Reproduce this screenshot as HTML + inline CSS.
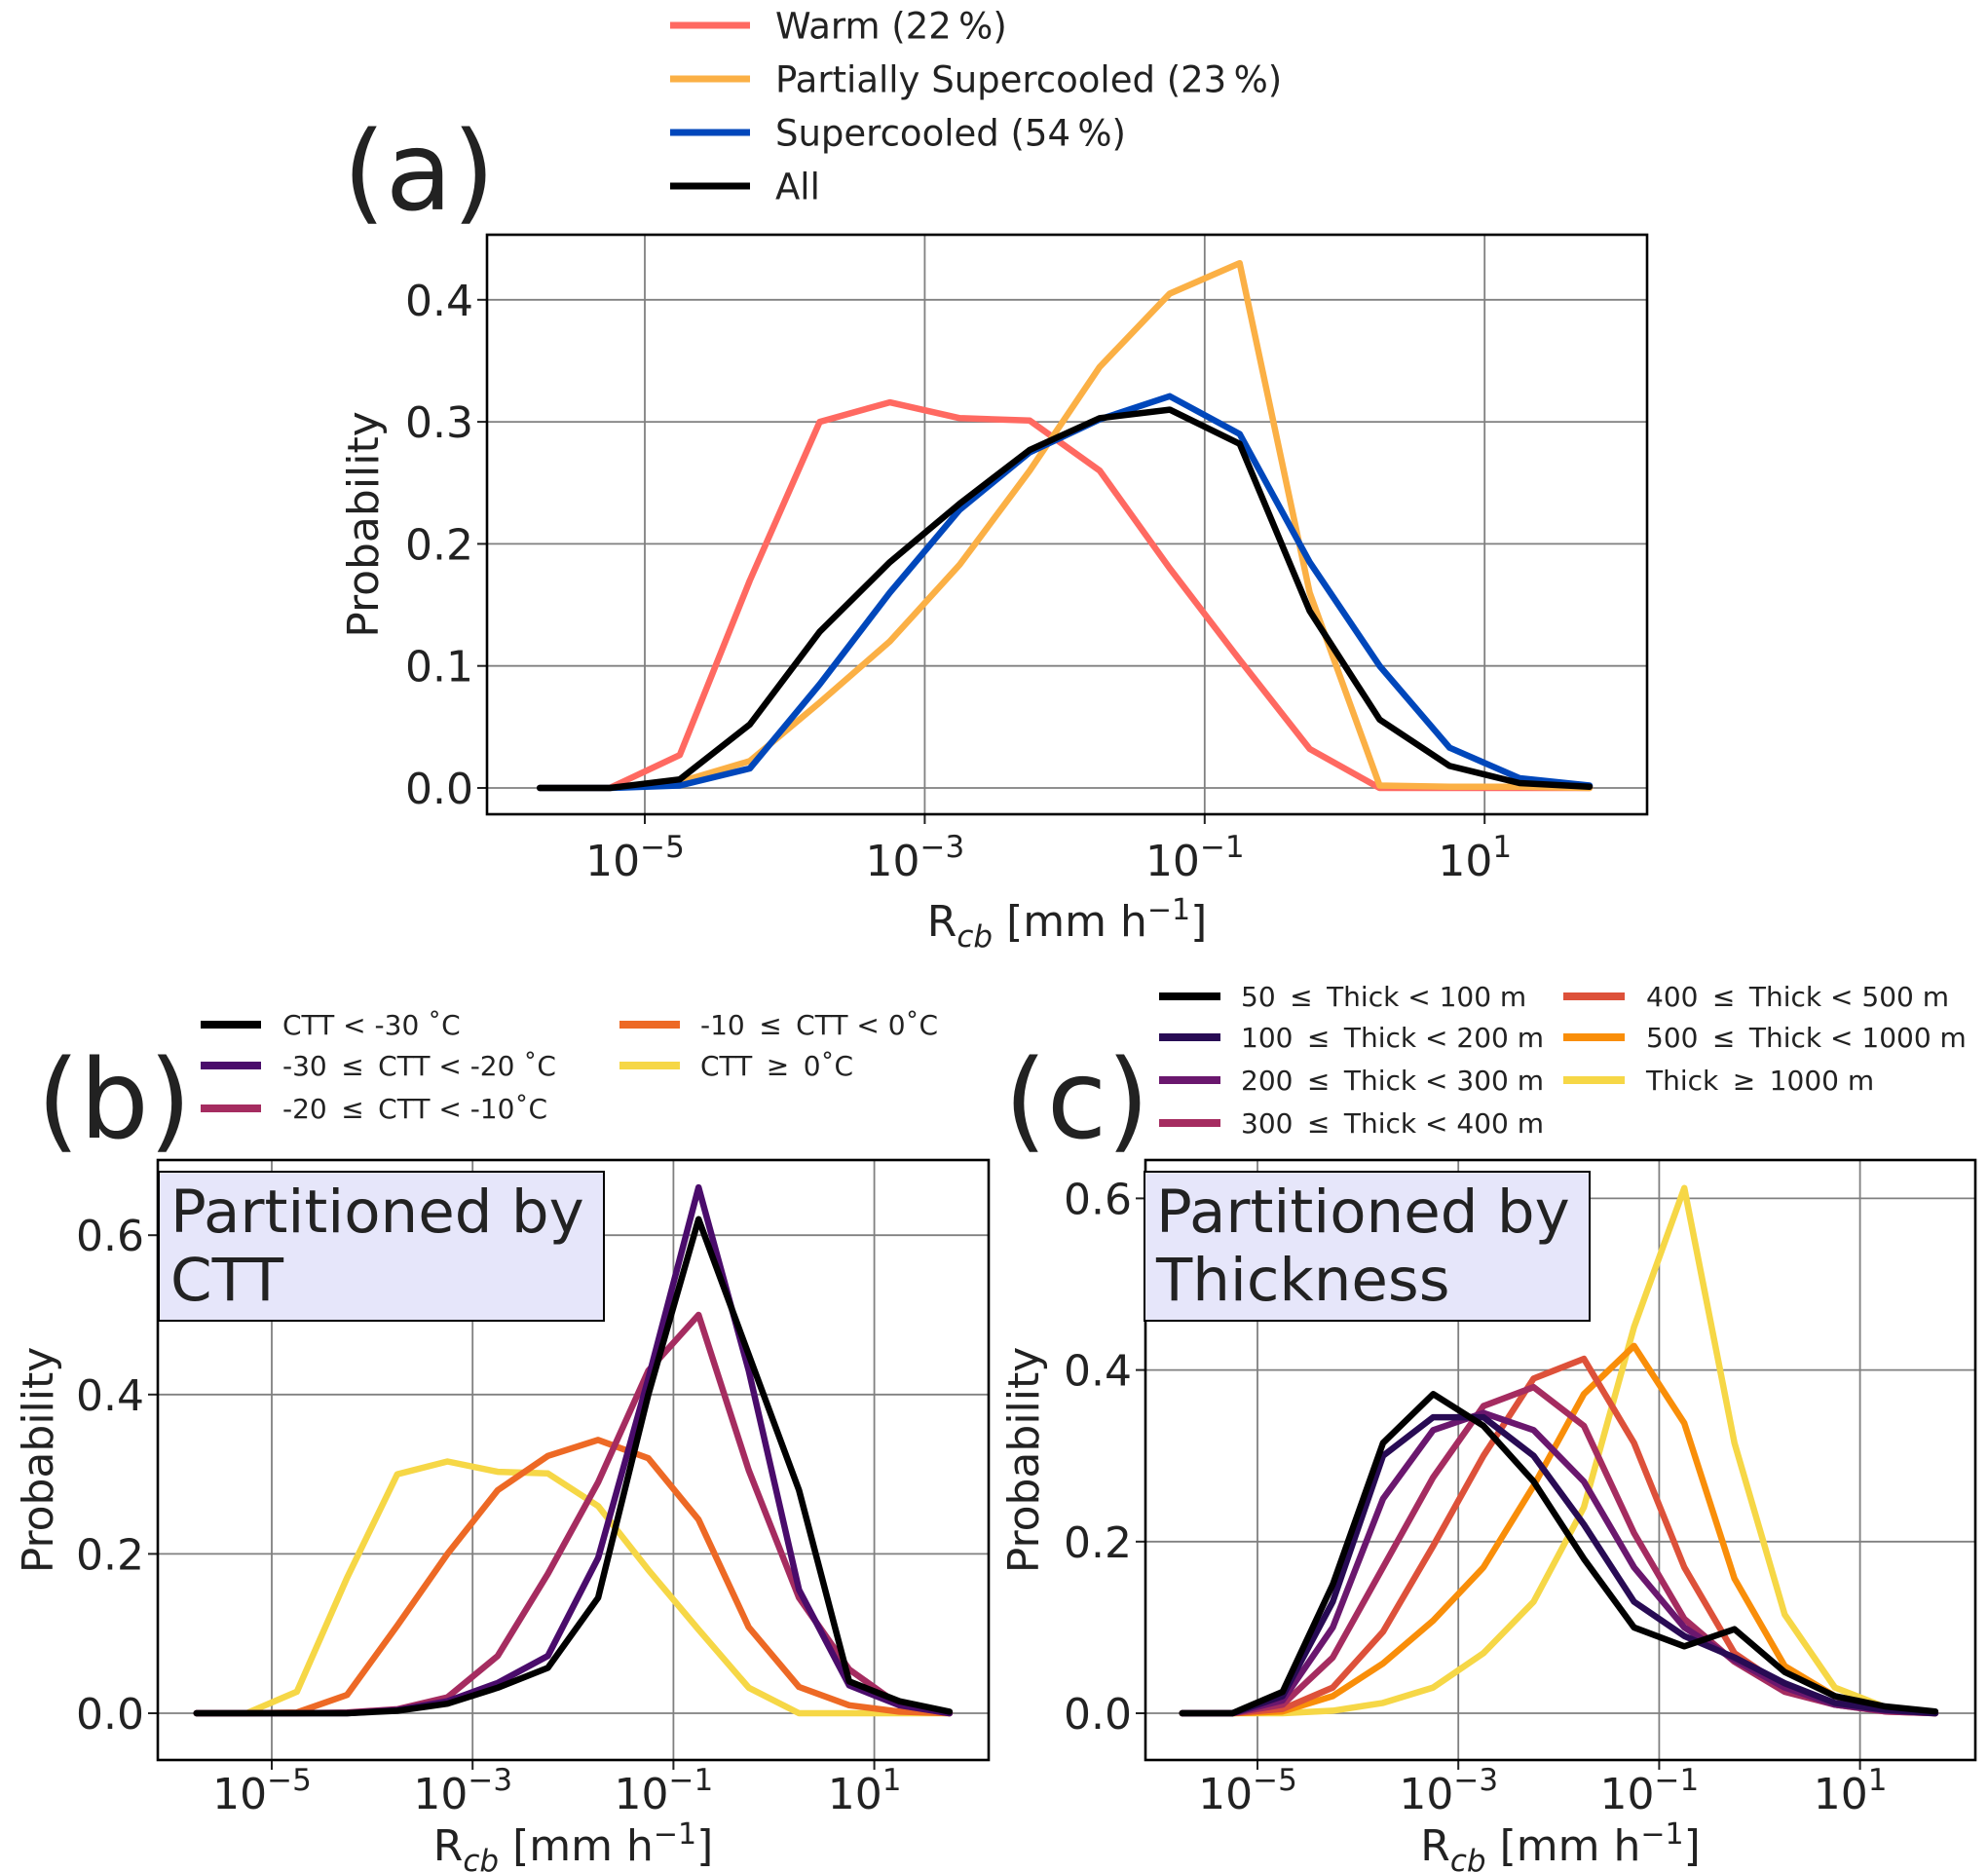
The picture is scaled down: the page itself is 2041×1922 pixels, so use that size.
<!DOCTYPE html>
<html><head><meta charset="utf-8"><style>
html,body{margin:0;padding:0;background:#fff;}
svg{display:block;font-family:"DejaVu Sans","Liberation Sans",sans-serif;}
</style></head><body>
<svg id="fig" width="2041" height="1922" viewBox="0 0 2041 1922" xmlns="http://www.w3.org/2000/svg"></svg>
<script>
// ---- data ----
const logX = [-5.75,-5.25,-4.75,-4.25,-3.75,-3.25,-2.75,-2.25,-1.75,-1.25,-0.75,-0.25,0.25,0.75,1.25,1.75];
const xTickExp = [-5,-3,-1,1];
const yTicksA = [0,0.1,0.2,0.3,0.4];
const yTicksB = [0,0.2,0.4,0.6];
const yTicksC = [0,0.2,0.4,0.6];
// panel a
const warm = [0,0,0.027,0.17,0.30,0.316,0.303,0.301,0.26,0.18,0.105,0.032,0,0,0,0];
const partial = [0,0,0.005,0.022,0.07,0.12,0.183,0.26,0.345,0.405,0.43,0.16,0.002,0.001,0.001,0];
const supercooled = [0,0,0.002,0.016,0.085,0.16,0.228,0.275,0.302,0.321,0.29,0.185,0.1,0.033,0.008,0.002];
const allA = [0,0,0.007,0.052,0.128,0.185,0.233,0.277,0.303,0.31,0.282,0.145,0.056,0.018,0.004,0.001];
// panel b
const cttLt30 = [0,0,0,0,0.003,0.012,0.032,0.057,0.145,0.4,0.62,0.45,0.28,0.04,0.015,0.002];
const ctt30to20 = [0,0,0,0,0.004,0.015,0.038,0.072,0.195,0.42,0.66,0.43,0.155,0.035,0.01,0];
const ctt20to10 = [0,0,0,0.001,0.005,0.02,0.072,0.175,0.29,0.43,0.5,0.305,0.145,0.055,0.01,0];
const ctt10to0 = [0,0,0.001,0.023,0.11,0.2,0.28,0.323,0.343,0.32,0.243,0.108,0.033,0.01,0.002,0];
const cttGe0 = [0,0,0.027,0.17,0.30,0.316,0.303,0.301,0.26,0.18,0.105,0.032,0,0,0,0];
// panel c
const th50 = [0,0,0.025,0.15,0.315,0.372,0.335,0.27,0.18,0.1,0.078,0.098,0.048,0.02,0.008,0.002];
const th100 = [0,0,0.02,0.13,0.3,0.345,0.345,0.3,0.22,0.13,0.09,0.065,0.035,0.012,0.004,0];
const th200 = [0,0,0.015,0.1,0.25,0.33,0.35,0.33,0.27,0.17,0.1,0.062,0.03,0.01,0.003,0];
const th300 = [0,0,0.01,0.065,0.17,0.275,0.358,0.38,0.335,0.21,0.11,0.06,0.025,0.01,0.002,0];
const th400 = [0,0,0.005,0.03,0.095,0.195,0.3,0.39,0.413,0.315,0.17,0.07,0.03,0.01,0.002,0];
const th500 = [0,0,0.002,0.02,0.058,0.108,0.17,0.265,0.372,0.428,0.338,0.157,0.055,0.02,0.005,0];
const th1000 = [0,0,0,0.003,0.012,0.03,0.07,0.13,0.24,0.45,0.612,0.315,0.115,0.03,0.007,0];

const NS="http://www.w3.org/2000/svg";
const svg=document.getElementById('fig');
function mk(tag,attrs,parent,text){const e=document.createElementNS(NS,tag);for(const k in attrs)e.setAttribute(k,attrs[k]);if(text!==undefined)e.textContent=text;(parent||svg).appendChild(e);return e;}

function panel(cfg){
  const g=mk('g',{});
  
  
  const X=v=>cfg.x0+(v+5)*cfg.dx;
  const Y=v=>cfg.y0-v*cfg.dy;
  xTickExp.forEach(e=>{
    const l=mk('line',{x1:X(e),x2:X(e),y1:cfg.top,y2:cfg.bottom,stroke:'#808080','stroke-width':1.8},g);
    
    
    mk('line',{x1:X(e),x2:X(e),y1:cfg.bottom,y2:cfg.bottom+10,stroke:'#222','stroke-width':2},g);
    const t=mk('text',{x:X(e)-10,y:cfg.bottom+cfg.tickOff,'text-anchor':'middle','font-size':44,fill:'#222'},g,'10');
    
    
    mk('tspan',{dy:-19,'font-size':31},t,(e<0?'\u2212':'')+Math.abs(e));
  });
  cfg.yticks.forEach(v=>{
    const l=mk('line',{x1:cfg.left,x2:cfg.right,y1:Y(v),y2:Y(v),stroke:'#808080','stroke-width':1.8},g);
    
    
    mk('line',{x1:cfg.left-10,x2:cfg.left,y1:Y(v),y2:Y(v),stroke:'#222','stroke-width':2},g);
    const t=mk('text',{x:cfg.left-14,y:Y(v)+16,'text-anchor':'end','font-size':44,fill:'#222'},g,v.toFixed(1));
    
    
  });
  cfg.series.forEach(s=>{
    const p=mk('polyline',{points:s.data.map((v,i)=>X(logX[i]).toFixed(1)+','+Y(v).toFixed(1)).join(' '),fill:'none',stroke:s.color,'stroke-width':6.5,'stroke-linejoin':'round','stroke-linecap':'round'},g);
    
    
  });
  const fr=mk('rect',{x:cfg.left,y:cfg.top,width:cfg.right-cfg.left,height:cfg.bottom-cfg.top,fill:'none',stroke:'#000','stroke-width':2.6},g);
  
  
  const xl=mk('text',{x:(cfg.left+cfg.right)/2,y:cfg.bottom+cfg.titleOff,'text-anchor':'middle','font-size':44,fill:'#222'},g,'R');
  
  
  mk('tspan',{dy:11,'font-size':31,'font-style':'italic'},xl,'cb');
  mk('tspan',{dy:-11},xl,' [mm h');
  mk('tspan',{dy:-17,'font-size':30},xl,'\u22121');
  mk('tspan',{dy:17},xl,']');
  const yl=mk('text',{x:cfg.ylx,y:(cfg.top+cfg.bottom)/2,'text-anchor':'middle','font-size':44,fill:'#222',transform:`rotate(-90 ${cfg.ylx} ${(cfg.top+cfg.bottom)/2})`},g,'Probability');
  
  
  return g;
}

panel({name:'panel-a',left:500,right:1691,top:241,bottom:836,x0:662,dx:143.7,y0:809,dy:1253,yticks:yTicksA,ylx:388,tickOff:63,titleOff:125,
  series:[{id:'line-warm',data:warm,color:'#ff6961'},{id:'line-partially-supercooled',data:partial,color:'#fbb045'},{id:'line-supercooled',data:supercooled,color:'#0047bb'},{id:'line-all',data:allA,color:'#000'}]});
const gb=panel({name:'panel-b',left:162,right:1015,top:1191,bottom:1807,x0:279,dx:103.1,y0:1759,dy:818,yticks:yTicksB,ylx:54,tickOff:50,titleOff:103,
  series:[{id:'line-ctt-ge-0',data:cttGe0,color:'#f6d746'},{id:'line-ctt-10-0',data:ctt10to0,color:'#ed6925'},{id:'line-ctt-20-10',data:ctt20to10,color:'#a52c60'},{id:'line-ctt-30-20',data:ctt30to20,color:'#4a0c6b'},{id:'line-ctt-lt-30',data:cttLt30,color:'#000'}]});
const gc=panel({name:'panel-c',left:1176,right:2028,top:1191,bottom:1807,x0:1291,dx:103.1,y0:1759,dy:881,yticks:yTicksC,ylx:1066,tickOff:50,titleOff:103,
  series:[{id:'line-thick-ge-1000',data:th1000,color:'#f6d746'},{id:'line-thick-500-1000',data:th500,color:'#f98e09'},{id:'line-thick-400-500',data:th400,color:'#dd513a'},{id:'line-thick-300-400',data:th300,color:'#a52c60'},{id:'line-thick-200-300',data:th200,color:'#6a176e'},{id:'line-thick-100-200',data:th100,color:'#280b54'},{id:'line-thick-50-100',data:th50,color:'#000'}]});

function box(g,x,y,w,h,l1,l2,name){
  const r=mk('rect',{x,y,width:w,height:h,fill:'#e6e6fa',stroke:'#000','stroke-width':2},g);
  
  
  mk('text',{x:x+12,y:y+62,'font-size':61,fill:'#222'},g,l1);
  mk('text',{x:x+12,y:y+132,'font-size':61,fill:'#222'},g,l2);
}
box(gb,163,1203,457,153,'Partitioned by','CTT','annotation-box-ctt');
box(gc,1175,1203,457,153,'Partitioned by','Thickness','annotation-box-thickness');

[['(a)',352,215,'panel-label-a'],['(b)',38,1168,'panel-label-b'],['(c)',1031,1168,'panel-label-c']].forEach(([t,x,y,n])=>{
  const e=mk('text',{x,y,'font-size':112,fill:'#222'},svg,t);
  
  
});

function legend(items,fs,lw,name){
  const g=mk('g',{});
  
  
  items.forEach(([label,color,x1,x2,tx,y])=>{
    const e=mk('g',{},g);
    
    
    mk('line',{x1,x2,y1:y,y2:y,stroke:color,'stroke-width':lw},e);
    mk('text',{x:tx,y:y+fs*0.36,'font-size':fs,fill:'#222','xml:space':'preserve'},e,label);
  });
}
legend([['Warm (22\u2009%)','#ff6961',688,770,796,26],['Partially Supercooled (23\u2009%)','#fbb045',688,770,796,81],['Supercooled (54\u2009%)','#0047bb',688,770,796,136],['All','#000',688,770,796,191]],37,7,'legend-a');
legend([['CTT < -30 \u02daC','#000',206,268,290,1052],['-30 \u2009\u2264\u2009 CTT < -20 \u02daC','#4a0c6b',206,268,290,1094],['-20 \u2009\u2264\u2009 CTT < -10\u02daC','#a52c60',206,268,290,1138],['-10 \u2009\u2264\u2009 CTT < 0\u02daC','#ed6925',636,698,719,1052],['CTT \u2009\u2265\u2009 0\u02daC','#f6d746',636,698,719,1094]],28,8,'legend-b');
legend([['50 \u2009\u2264\u2009 Thick < 100 m','#000',1190,1253,1274,1023],['100 \u2009\u2264\u2009 Thick < 200 m','#280b54',1190,1253,1274,1065],['200 \u2009\u2264\u2009 Thick < 300 m','#6a176e',1190,1253,1274,1109],['300 \u2009\u2264\u2009 Thick < 400 m','#a52c60',1190,1253,1274,1153],['400 \u2009\u2264\u2009 Thick < 500 m','#dd513a',1605,1668,1690,1023],['500 \u2009\u2264\u2009 Thick < 1000 m','#f98e09',1605,1668,1690,1065],['Thick \u2009\u2265\u2009 1000 m','#f6d746',1605,1668,1690,1109]],28,8,'legend-c');
</script>
</body></html>
